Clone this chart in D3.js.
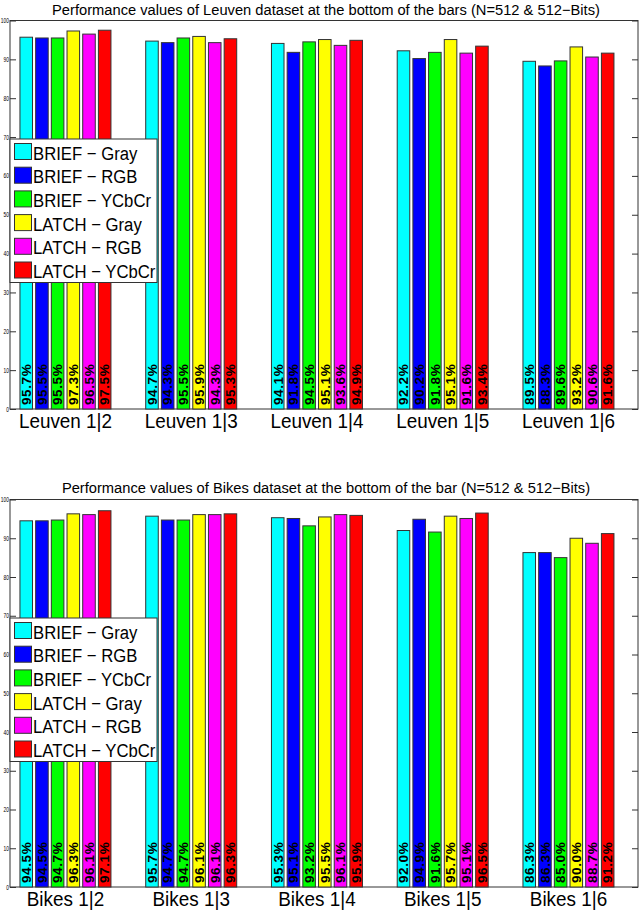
<!DOCTYPE html>
<html>
<head>
<meta charset="utf-8">
<script src="https://cdn.jsdelivr.net/npm/d3@7"></script>
<style>
  body { margin: 0; background: #fff; }
  svg text { font-family: "Liberation Sans", Arial, Helvetica, sans-serif; }
</style>
</head>
<body>
<script>
var width = 640, height = 911;

// series (legend order) and colours
var methods = ["BRIEF \u2212 Gray", "BRIEF \u2212 RGB", "BRIEF \u2212 YCbCr",
               "LATCH \u2212 Gray", "LATCH \u2212 RGB", "LATCH \u2212 YCbCr"];
var colors = ["#00ffff", "#0000ff", "#00ff00", "#ffff00", "#ff00ff", "#ff0000"];

// Leuven dataset
var leuvenPairs = ["Leuven 1|2", "Leuven 1|3", "Leuven 1|4", "Leuven 1|5", "Leuven 1|6"];
var leuvenValues = [
    [95.7, 95.5, 95.5, 97.3, 96.5, 97.5],
    [94.7, 94.3, 95.5, 95.9, 94.3, 95.3],
    [94.1, 91.8, 94.5, 95.1, 93.6, 94.9],
    [92.2, 90.2, 91.8, 95.1, 91.6, 93.4],
    [89.5, 88.3, 89.6, 93.2, 90.6, 91.6]
];

// Bikes dataset
var bikesPairs = ["Bikes 1|2", "Bikes 1|3", "Bikes 1|4", "Bikes 1|5", "Bikes 1|6"];
var bikesValues = [
    [94.5, 94.5, 94.7, 96.3, 96.1, 97.1],
    [95.7, 94.7, 94.7, 96.1, 96.1, 96.3],
    [95.3, 95.1, 93.2, 95.5, 96.1, 95.9],
    [92.0, 94.9, 91.6, 95.7, 95.1, 96.5],
    [86.3, 86.3, 85.0, 90.0, 88.7, 91.2]
];

var yTicks = d3.range(0, 101, 10);

var svg = d3.select('body').append('svg').attr('width', width).attr('height', height);

drawPanel({
    title: "Performance values of Leuven dataset at the bottom of the bars (N=512 & 512\u2212Bits)",
    pairs: leuvenPairs, values: leuvenValues,
    top: 20.5, bottom: 409, titleY: 15
});
drawPanel({
    title: "Performance values of Bikes dataset at the bottom of the bar (N=512 & 512\u2212Bits)",
    pairs: bikesPairs, values: bikesValues,
    top: 499.5, bottom: 887, titleY: 493
});

function drawPanel(cfg) {
    var left = 10, right = 638;
    var g = svg.append('g');

    var x = d3.scaleLinear().domain([0.559, 5.553]).range([left, right]);
    var xInner = d3.scaleBand().domain(d3.range(methods.length)).range([-45.5, 45.5]).paddingInner(0.2);
    var y = d3.scaleLinear().domain([0, 100]).range([cfg.bottom, cfg.top]);

    g.append('text')
        .attr('x', (left + right) / 2 + 2)
        .attr('y', cfg.titleY)
        .attr('text-anchor', 'middle')
        .attr('font-size', 14.7)
        .text(cfg.title);

    // axis box
    g.append('rect')
        .attr('x', left).attr('y', cfg.top)
        .attr('width', right - left).attr('height', cfg.bottom - cfg.top)
        .attr('fill', 'none').attr('stroke', '#333').attr('stroke-width', 1);

    // inward ticks left and right
    var yAxisL = d3.axisLeft(y).tickValues(yTicks).tickSize(-6).tickPadding(1.5);
    var yAxisR = d3.axisRight(y).tickValues(yTicks).tickSize(-6).tickFormat('');
    var gl = g.append('g').attr('transform', 'translate(' + left + ',0)').call(yAxisL);
    gl.select('.domain').remove();
    gl.selectAll('text')
        .attr('font-size', 6.5)
        .attr('font-family', 'Liberation Sans, Arial, sans-serif')
        .attr('transform', 'scale(0.75,1)');
    gl.selectAll('line').attr('stroke', '#333');
    var gr = g.append('g').attr('transform', 'translate(' + right + ',0)').call(yAxisR);
    gr.select('.domain').remove();
    gr.selectAll('line').attr('stroke', '#333');

    var groups = g.selectAll('g.group')
        .data(cfg.values)
        .enter().append('g')
        .attr('class', 'group')
        .attr('transform', function (d, i) { return 'translate(' + x(i + 1) + ',0)'; });

    groups.selectAll('rect')
        .data(function (d) { return d; })
        .enter().append('rect')
        .attr('x', function (d, j) { return xInner(j); })
        .attr('y', function (d) { return y(d); })
        .attr('width', xInner.bandwidth())
        .attr('height', function (d) { return y(0) - y(d); })
        .attr('fill', function (d, j) { return colors[j]; })
        .attr('stroke', '#333')
        .attr('stroke-width', 1);

    groups.selectAll('text.val')
        .data(function (d) { return d; })
        .enter().append('text')
        .attr('class', 'val')
        .attr('transform', function (d, j) {
            return 'translate(' + (xInner(j) + xInner.bandwidth() - 1.5) + ',' + (y(0) - 4) + ') rotate(-90)';
        })
        .attr('font-size', 13.5)
        .attr('font-weight', 'bold')
        .attr('letter-spacing', 0.6)
        .attr('fill', '#000')
        .text(function (d) { return d.toFixed(1) + '%'; });

    groups.append('text')
        .attr('transform', 'translate(0,' + (cfg.bottom + 18.5) + ') scale(0.9,1)')
        .attr('text-anchor', 'middle')
        .attr('font-size', 21)
        .text(function (d, i) { return cfg.pairs[i]; });

    // legend
    var lg = g.append('g').attr('transform', 'translate(' + left + ',' + (cfg.top + 118.5) + ')');
    lg.append('rect')
        .attr('width', 147).attr('height', 143.5)
        .attr('fill', '#fff').attr('stroke', '#333').attr('stroke-width', 1);
    var items = lg.selectAll('g.item')
        .data(methods)
        .enter().append('g')
        .attr('class', 'item')
        .attr('transform', function (d, i) { return 'translate(0,' + (4.5 + i * 23.7) + ')'; });
    items.append('rect')
        .attr('x', 4.5).attr('width', 17).attr('height', 16)
        .attr('fill', function (d, i) { return colors[i]; })
        .attr('stroke', '#333');
    items.append('text')
        .attr('transform', 'translate(23,16) scale(0.88,1)')
        .attr('font-size', 19)
        .text(function (d) { return d; });
}
</script>
</body>
</html>
